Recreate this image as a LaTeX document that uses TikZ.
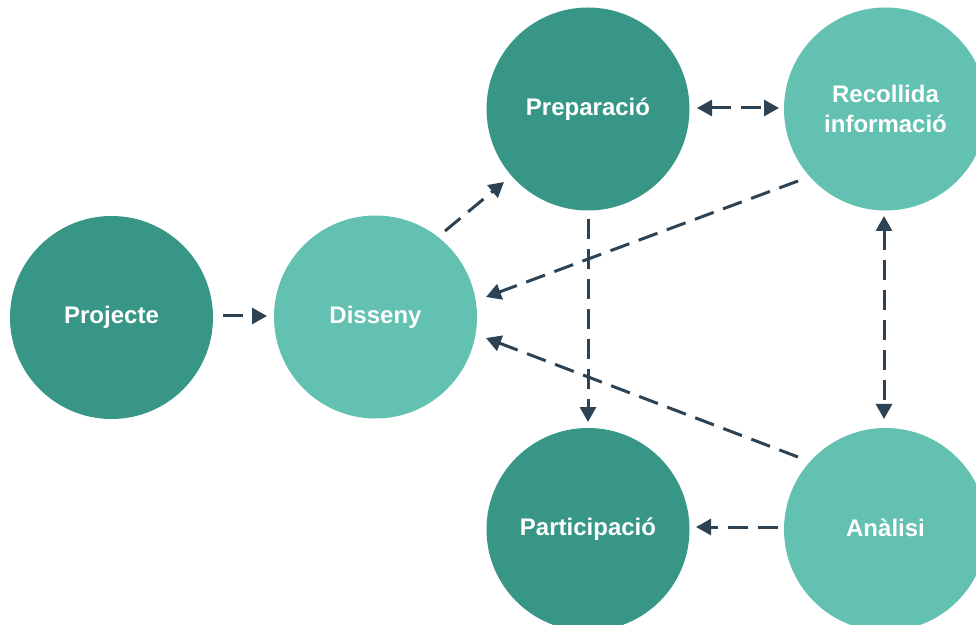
\documentclass[tikz,border=0pt]{standalone}
\usepackage{fontspec}
\setmainfont{Liberation Sans}
\usetikzlibrary{calc,arrows.meta}
\definecolor{darkteal}{HTML}{389687}
\definecolor{lightteal}{HTML}{62C1B0}
\definecolor{arrowcol}{HTML}{2D4253}
\tikzset{
  bubble/.style={circle, minimum size=203pt, inner sep=0pt, text=white,
    font=\bfseries\fontsize{24pt}{30pt}\selectfont, align=center},
  darkb/.style={bubble, fill=darkteal},
  lightb/.style={bubble, fill=lightteal},
  arr/.style={draw=arrowcol, line width=3pt, dash pattern=on 20pt off 10pt,
    -{Triangle[length=15pt,width=16pt]}},
  darr/.style={arr, {Triangle[length=15pt,width=16pt]}-{Triangle[length=15pt,width=16pt]}}
}
\begin{document}
\begin{tikzpicture}[x=1pt,y=1pt]
\useasboundingbox (0,0) rectangle (976,624);
\node[darkb]  (proj) at (111.5,306.5) {Projecte};
\node[lightb] (dis)  at (375.5,307) {Disseny};
\node[darkb]  (prep) at (588,515) {Preparació};
\node[lightb] (rec)  at (885.5,515) {Recollida\\informació};
\node[darkb]  (part) at (588,94.5) {Participació};
\node[lightb] (ana)  at (885.5,94.5) {\raisebox{4pt}{Anàlisi}};
\draw[arr] ($(proj)+(111.5,1.5)$) -- ($(dis)+(-108.5,1)$);
\draw[arr] ($(dis)+(69.5,86)$) -- ($(prep)+(-84,-73)$);
\draw[arr] ($(rec)+(-87.5,-72)$) -- ($(dis)+(110.5,20)$);
\draw[arr] ($(ana)+(-87.5,72.5)$) -- ($(dis)+(110.5,-21)$);
\draw[arr] ($(prep)+(0,-110)$) -- ($(part)+(0,107.5)$);
\draw[darr] ($(prep)+(109,1)$) -- ($(rec)+(-106.5,1)$);
\draw[darr] ($(rec)+(-1.5,-107)$) -- ($(ana)+(-1.5,110.5)$);
\draw[arr] ($(ana)+(-107.5,2.5)$) -- ($(part)+(108,2.5)$);
\end{tikzpicture}
\end{document}
